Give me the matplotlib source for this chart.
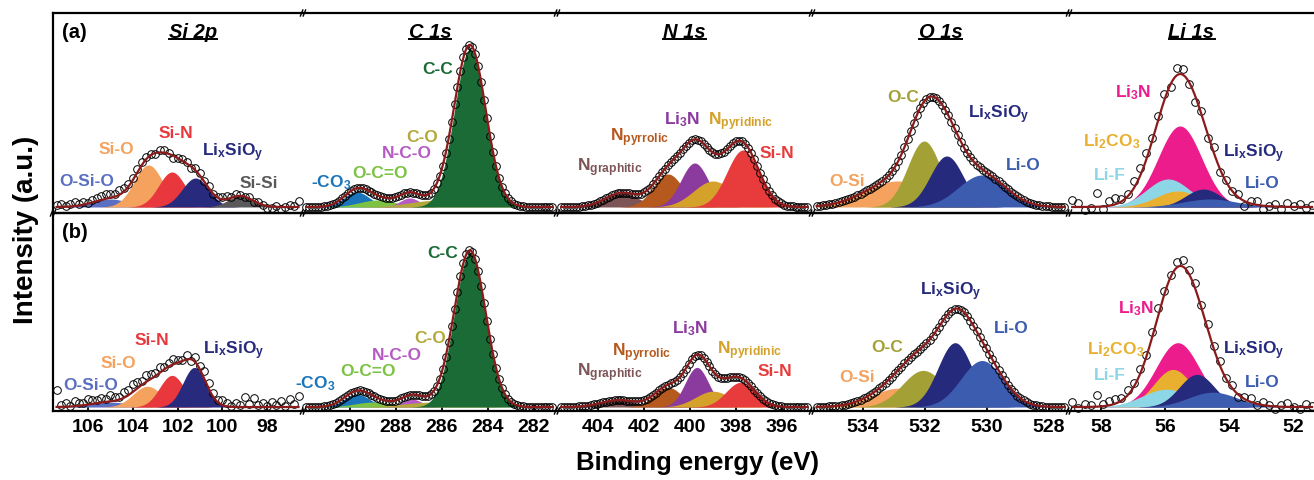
import numpy as np
import matplotlib
matplotlib.use('Agg')
import matplotlib.pyplot as plt
from matplotlib.lines import Line2D

plt.rcParams['font.family'] = ['Liberation Sans', 'DejaVu Sans']
plt.rcParams['font.weight'] = 'bold'
plt.rcParams['mathtext.fontset'] = 'custom'
plt.rcParams['mathtext.rm'] = 'Liberation Sans:bold'
plt.rcParams['mathtext.bf'] = 'Liberation Sans:bold'
plt.rcParams['mathtext.it'] = 'Liberation Sans:bold:italic'
plt.rcParams['mathtext.default'] = 'bf'

# ---------------- peak fits (center eV, height a.u., fwhm eV) ----------------
# Si 2p
si_comp = ['O-Si-O', 'Si-O', 'Si-N', 'Li$_x$SiO$_y$', 'Si-Si']
si_a_center = [105.0, 103.3, 102.25, 101.2, 99.2]
si_a_height = [8, 42, 35, 29, 11]
si_a_fwhm = [1.8, 1.5, 1.4, 1.4, 1.3]
si_b_center = [105.0, 103.35, 102.25, 101.25]
si_b_height = [5, 21, 32, 40]
si_b_fwhm = [2.0, 1.5, 1.3, 1.2]

# C 1s
c_comp = ['-CO$_3$', 'O-C=O', 'N-C-O', 'C-O', 'C-C']
c_a_center = [289.7, 288.8, 287.4, 286.1, 284.78]
c_a_height = [15, 7, 9, 7, 158]
c_a_fwhm = [1.3, 1.9, 1.0, 3.0, 1.6]
c_b_center = [289.7, 289.0, 287.3, 286.4, 284.78]
c_b_height = [13, 5, 8, 5, 156]
c_b_fwhm = [1.3, 1.9, 1.0, 3.0, 1.6]

# N 1s
n_comp = ['N$_{graphitic}$', 'N$_{pyrrolic}$', 'Li$_3$N', 'N$_{pyridinic}$', 'Si-N']
n_a_center = [402.96, 400.96, 399.8, 399.0, 397.7]
n_a_height = [14, 33, 44, 26, 57]
n_a_fwhm = [1.7, 1.5, 1.4, 2.0, 1.65]
n_b_center = [403.1, 400.96, 399.7, 399.0, 397.8]
n_b_height = [7, 20, 40, 16, 25]
n_b_fwhm = [1.8, 1.4, 1.2, 1.8, 1.5]

# O 1s
o_comp = ['O-Si', 'O-C', 'Li$_x$SiO$_y$', 'Li-O']
o_a_center = [532.9, 532.03, 531.3, 530.16]
o_a_height = [26, 66, 51, 32]
o_a_fwhm = [2.4, 1.25, 1.25, 1.8]
o_b_center = [532.87, 532.06, 531.03, 530.16]
o_b_height = [19, 37, 65, 47]
o_b_fwhm = [2.0, 1.6, 1.3, 1.6]

# Li 1s
li_comp = ['Li$_3$N', 'Li-F', 'Li$_2$CO$_3$', 'Li$_x$SiO$_y$', 'Li-O']
li_a_center = [55.53, 55.9, 55.6, 54.8, 54.6]
li_a_height = [81, 28, 16, 18, 8]
li_a_fwhm = [1.6, 1.6, 1.6, 1.3, 2.0]
li_b_center = [55.6, 55.95, 55.75, 55.0, 54.5]
li_b_height = [65, 18, 38, 33, 15]
li_b_fwhm = [1.6, 1.8, 1.4, 1.3, 1.8]

# measured points: scan window (start, stop, n) and deviation from the fit
si_scan = (107.4, 96.6, 55)
c_scan = (291.9, 281.2, 84)
n_scan = (405.6, 394.9, 84)
o_scan = (535.5, 527.5, 80)
li_scan = (58.9, 51.4, 40)

si_a_resid = [2, 3, 1, 2, 4, 2, 3, 1, 2, 3, 4, 5, 4, 3, 5, 4, 3, 2, 4, 3,
              2, 1, -1, 2, 3, 1, -2, 0, 2, 1, -1, 2, 3, 1, 2, 0, 1, 2, 3, 1,
              2, 1, 0, 2, -1, 1, 0, -2, -1, 1, -2, 0, 2, 1, 6]
si_b_resid = [17, 2, 4, 1, 5, 3, 2, 6, 4, 3, 5, 3, 6, 4, 3, 6, 5, 8, 6, 4,
              7, 5, 3, 6, 2, 4, 5, 3, 1, 4, -2, 5, 3, 8, 6, 4, 2, 5, 3, 1,
              4, 2, 10, 3, 9, 2, 4, 1, 5, 2, 6, 1, 8, 3, 11]
li_a_resid = [7, 4, -3, -1, 14, -3, 5, 6, 2, 3, 7, 8, 7, 3, 4, 6, -3, 7, 6, -2,
              -6, 3, -4, 5, -3, 2, 0, 3, -5, 2, 4, -3, 0, 3, -2, 4, 1, 3, -1, 2]
li_b_resid = [5, -1, 3, 2, 12, 2, 4, 5, 3, 5, 4, 6, 3, 5, 7, 3, 2, 6, 7, 4,
              6, 3, 5, 2, 4, 1, 3, -2, 2, 4, -1, 3, 1, -3, 2, 4, 0, -2, 3, 1]

titles = ['Si 2p', 'C 1s', 'N 1s', 'O 1s', 'Li 1s']
xlims = [(107.56, 96.4), (292.04, 281.0), (405.78, 394.7), (535.65, 527.35), (59.0, 51.34)]
xticks = [[106, 104, 102, 100, 98], [290, 288, 286, 284, 282], [404, 402, 400, 398, 396],
          [534, 532, 530, 528], [58, 56, 54, 52]]

# colours
si_col = ['#5b6fc2', '#f4a25e', '#e8383d', '#272a7d', '#595959']
c_col = ['#1b75bb', '#7cc243', '#b55bc3', '#b3a93a', '#1a6b35']
n_col = ['#7d5557', '#b5591f', '#8b3b9e', '#d4a22a', '#e83c3c']
o_col = ['#f4a25e', '#a3a135', '#262a7c', '#3c5cb0']
li_col = ['#ec1c8c', '#8dd6e6', '#e8b02e', '#262a7c', '#3c5cb0']
li_b_order = [0, 2, 1, 3, 4]

ENV = '#8b1a1a'
W, H = 1314, 481


def gauss(e, c, h, w):
    return h * np.exp(-4 * np.log(2) * (e - c) ** 2 / w ** 2)


def draw_fit(ax, scan, base, centers, heights, fwhms, colors, resid=None, order=None):
    e0, e1, n = scan
    ef = np.linspace(e0, e1, 800)
    idx = order if order is not None else range(len(centers))
    for k in idx:
        y = gauss(ef, centers[k], heights[k], fwhms[k])
        m = y > 0.15
        ax.fill_between(ef, base, base + y, where=m, color=colors[k], lw=0, zorder=2)
    env = base + sum(gauss(ef, c, h, w) for c, h, w in zip(centers, heights, fwhms))
    ax.plot(ef, env, color=ENV, lw=1.6, zorder=5)
    es = np.linspace(e0, e1, n)
    pts = base + sum(gauss(es, c, h, w) for c, h, w in zip(centers, heights, fwhms))
    if resid is not None:
        pts = pts + np.array(resid)
    ax.plot(es, pts, 'o', mfc='none', mec='k', ms=5.5, mew=0.7, zorder=4, clip_on=False)


fig = plt.figure(figsize=(W / 100, H / 100), dpi=100)
cols = [53, 303, 557, 812, 1069, 1314]
rows = [(14, 214), (214, 412)]

axes = []
for r, (top, bot) in enumerate(rows):
    line = []
    for c in range(5):
        ax = fig.add_axes([cols[c] / W, 1 - bot / H, (cols[c + 1] - cols[c]) / W, (bot - top) / H])
        ax.set_xlim(*xlims[c])
        ax.set_ylim(0, 200)
        ax.set_yticks([])
        ax.set_xticks(xticks[c])
        ax.spines['right'].set_visible(False)
        ax.spines['left'].set_visible(c == 0)
        for s in ax.spines.values():
            s.set_linewidth(1.6)
        if r == 0:
            ax.tick_params(axis='x', bottom=False, labelbottom=False)
        else:
            ax.tick_params(axis='x', direction='in', length=4, width=1.3, labelsize=14, pad=5)
            for lab in ax.get_xticklabels():
                lab.set_fontweight('bold')
        ax.patch.set_alpha(0)
        line.append(ax)
    axes.append(line)

base_a, base_b = 6, 4

draw_fit(axes[0][0], si_scan, base_a, si_a_center, si_a_height, si_a_fwhm, si_col, si_a_resid)
draw_fit(axes[1][0], si_scan, base_b, si_b_center, si_b_height, si_b_fwhm, si_col, si_b_resid)
draw_fit(axes[0][1], c_scan, base_a, c_a_center, c_a_height, c_a_fwhm, c_col)
draw_fit(axes[1][1], c_scan, base_b, c_b_center, c_b_height, c_b_fwhm, c_col)
draw_fit(axes[0][2], n_scan, base_a, n_a_center, n_a_height, n_a_fwhm, n_col)
draw_fit(axes[1][2], n_scan, base_b, n_b_center, n_b_height, n_b_fwhm, n_col)
draw_fit(axes[0][3], o_scan, base_a, o_a_center, o_a_height, o_a_fwhm, o_col)
draw_fit(axes[1][3], o_scan, base_b, o_b_center, o_b_height, o_b_fwhm, o_col)
draw_fit(axes[0][4], li_scan, base_a, li_a_center, li_a_height, li_a_fwhm, li_col, li_a_resid)
draw_fit(axes[1][4], li_scan, base_b, li_b_center, li_b_height, li_b_fwhm, li_col, li_b_resid, li_b_order)

# peak labels: (panel, comp index, energy, intensity, ha)
lab_a = [
    (0, 0, 106.04, 33, 'center'), (0, 1, 104.75, 64, 'center'), (0, 2, 102.07, 81, 'center'),
    (0, 3, 100.91, 61, 'left'), (0, 4, 98.37, 31, 'center'),
    (1, 0, 291.7, 31, 'left'), (1, 1, 288.7, 41, 'center'), (1, 2, 287.52, 61, 'center'),
    (1, 3, 286.87, 77, 'center'), (1, 4, 286.17, 145, 'center'),
    (2, 0, 404.91, 46, 'left'), (2, 1, 403.48, 76, 'left'), (2, 2, 400.35, 94, 'center'),
    (2, 3, 399.22, 92, 'left'), (2, 4, 396.22, 61, 'center'),
    (3, 0, 534.52, 33, 'center'), (3, 1, 532.71, 116, 'center'), (3, 2, 530.61, 99, 'left'),
    (3, 3, 528.84, 48, 'center'),
    (4, 0, 57.0, 121, 'center'), (4, 1, 57.72, 39, 'center'), (4, 2, 58.56, 72, 'left'),
    (4, 3, 54.19, 60, 'left'), (4, 4, 52.97, 31, 'center'),
]
lab_b = [
    (0, 0, 105.87, 27, 'center'), (0, 1, 104.66, 49, 'center'), (0, 2, 103.14, 72, 'center'),
    (0, 3, 100.87, 62, 'left'),
    (1, 0, 292.39, 29, 'left'), (1, 1, 289.22, 41, 'center'), (1, 2, 287.96, 57, 'center'),
    (1, 3, 286.52, 74, 'center'), (1, 4, 285.96, 160, 'center'),
    (2, 0, 404.91, 40, 'left'), (2, 1, 403.39, 60, 'left'), (2, 2, 400.0, 84, 'center'),
    (2, 3, 398.83, 62, 'left'), (2, 4, 396.3, 41, 'center'),
    (3, 0, 534.19, 35, 'center'), (3, 1, 533.23, 65, 'center'), (3, 2, 532.16, 122, 'left'),
    (3, 3, 529.23, 84, 'center'),
    (4, 0, 56.91, 104, 'center'), (4, 1, 57.72, 37, 'center'), (4, 2, 58.44, 63, 'left'),
    (4, 3, 54.19, 62, 'left'), (4, 4, 52.97, 30, 'center'),
]
names = [si_comp, c_comp, n_comp, o_comp, li_comp]
colours = [si_col, c_col, n_col, o_col, li_col]
for r, labs in enumerate([lab_a, lab_b]):
    for p, k, e, y, ha in labs:
        axes[r][p].text(e, y, names[p][k], color=colours[p][k], fontsize=12.5,
                        fontweight='bold', ha=ha, va='center', zorder=6, clip_on=False)

# region titles, underlined
title_x = [0.56, 0.5, 0.5, 0.5, 0.5]
tts = []
for c in range(5):
    t = axes[0][c].text(title_x[c], 1 - 18 / 200, titles[c], transform=axes[0][c].transAxes,
                        fontsize=14.5, fontweight='bold', fontstyle='italic',
                        ha='center', va='center')
    tts.append(t)

axes[0][0].text(9 / 250, 1 - 18 / 200, '(a)', transform=axes[0][0].transAxes,
                fontsize=14.5, fontweight='bold', ha='left', va='center')
axes[1][0].text(9 / 250, 1 - 18 / 198, '(b)', transform=axes[1][0].transAxes,
                fontsize=14.5, fontweight='bold', ha='left', va='center')

fig.text(26 / W, 1 - 230 / H, 'Intensity (a.u.)', rotation=90, fontsize=20,
         fontweight='bold', ha='center', va='center')
fig.text(698 / W, 1 - 463 / H, 'Binding energy (eV)', fontsize=18.5,
         fontweight='bold', ha='center', va='center')


# axis break marks
def brk(xp, yp):
    for dx in (-1.4, 1.4):
        fig.add_artist(Line2D([(xp + dx - 1.2) / W, (xp + dx + 1.2) / W],
                              [1 - (yp + 3) / H, 1 - (yp - 3) / H], color='k', lw=1))


for xb in cols[1:5]:
    for yb in (14, 214, 412):
        brk(xb, yb)
brk(53, 214)

fig.canvas.draw()
rend = fig.canvas.get_renderer()
for t in tts:
    bb = t.get_window_extent(rend)
    fig.add_artist(Line2D([bb.x0 / W, bb.x1 / W], [1 - 40 / H, 1 - 40 / H], color='k', lw=1.4))

fig.savefig('out.png', dpi=100)
